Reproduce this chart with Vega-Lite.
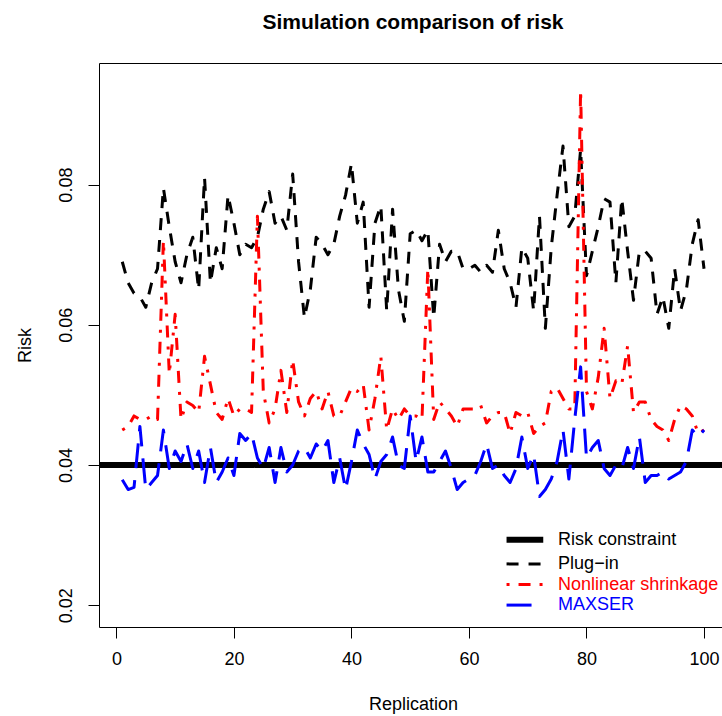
{
  "$schema": "https://vega.github.io/schema/vega-lite/v6.json",
  "autosize": "none",
  "width": 623,
  "height": 564,
  "padding": {"left": 99, "top": 63, "right": 0, "bottom": 89},
  "background": "white",
  "title": {"text": "Simulation comparison of risk", "font": "Liberation Sans", "fontSize": 21, "fontWeight": "bold", "color": "black", "anchor": "middle", "frame": "group", "baseline": "alphabetic", "offset": 13, "dx": 2.5},
  "config": {
    "view": {"stroke": null},
    "axis": {"domainColor": "black", "domainWidth": 1, "tickColor": "black", "tickWidth": 1, "tickSize": 11, "labelColor": "black", "labelFont": "Liberation Sans", "labelFontSize": 18, "titleFont": "Liberation Sans", "titleFontSize": 18, "titleFontWeight": "normal", "titleColor": "black", "grid": false}
  },
  "data": {"values": [
    {"series":"Risk constraint","rep":-4,"risk":0.04},{"series":"Risk constraint","rep":105,"risk":0.04},
    {"series":"Plug−in","rep":1,"risk":0.069},{"series":"Plug−in","rep":2,"risk":0.066},{"series":"Plug−in","rep":3,"risk":0.0645},{"series":"Plug−in","rep":4,"risk":0.064},{"series":"Plug−in","rep":5,"risk":0.0625},{"series":"Plug−in","rep":6,"risk":0.066},{"series":"Plug−in","rep":7,"risk":0.068},{"series":"Plug−in","rep":8,"risk":0.0795},{"series":"Plug−in","rep":9,"risk":0.074},{"series":"Plug−in","rep":10,"risk":0.069},
    {"series":"Plug−in","rep":11,"risk":0.066},{"series":"Plug−in","rep":12,"risk":0.07},{"series":"Plug−in","rep":13,"risk":0.0725},{"series":"Plug−in","rep":14,"risk":0.065},{"series":"Plug−in","rep":15,"risk":0.081},{"series":"Plug−in","rep":16,"risk":0.066},{"series":"Plug−in","rep":17,"risk":0.071},{"series":"Plug−in","rep":18,"risk":0.068},{"series":"Plug−in","rep":19,"risk":0.0785},{"series":"Plug−in","rep":20,"risk":0.0745},
    {"series":"Plug−in","rep":21,"risk":0.07},{"series":"Plug−in","rep":22,"risk":0.0715},{"series":"Plug−in","rep":23,"risk":0.071},{"series":"Plug−in","rep":24,"risk":0.0725},{"series":"Plug−in","rep":25,"risk":0.0765},{"series":"Plug−in","rep":26,"risk":0.079},{"series":"Plug−in","rep":27,"risk":0.0745},{"series":"Plug−in","rep":28,"risk":0.0755},{"series":"Plug−in","rep":29,"risk":0.0735},{"series":"Plug−in","rep":30,"risk":0.0815},
    {"series":"Plug−in","rep":31,"risk":0.069},{"series":"Plug−in","rep":32,"risk":0.061},{"series":"Plug−in","rep":33,"risk":0.065},{"series":"Plug−in","rep":34,"risk":0.0725},{"series":"Plug−in","rep":35,"risk":0.0715},{"series":"Plug−in","rep":36,"risk":0.07},{"series":"Plug−in","rep":37,"risk":0.0715},{"series":"Plug−in","rep":38,"risk":0.0755},{"series":"Plug−in","rep":39,"risk":0.0785},{"series":"Plug−in","rep":40,"risk":0.083},
    {"series":"Plug−in","rep":41,"risk":0.0745},{"series":"Plug−in","rep":42,"risk":0.0775},{"series":"Plug−in","rep":43,"risk":0.0625},{"series":"Plug−in","rep":44,"risk":0.0745},{"series":"Plug−in","rep":45,"risk":0.077},{"series":"Plug−in","rep":46,"risk":0.062},{"series":"Plug−in","rep":47,"risk":0.0765},{"series":"Plug−in","rep":48,"risk":0.065},{"series":"Plug−in","rep":49,"risk":0.0605},{"series":"Plug−in","rep":50,"risk":0.073},
    {"series":"Plug−in","rep":51,"risk":0.0735},{"series":"Plug−in","rep":52,"risk":0.072},{"series":"Plug−in","rep":53,"risk":0.0735},{"series":"Plug−in","rep":54,"risk":0.061},{"series":"Plug−in","rep":55,"risk":0.0715},{"series":"Plug−in","rep":56,"risk":0.069},{"series":"Plug−in","rep":57,"risk":0.0705},{"series":"Plug−in","rep":58,"risk":0.0705},{"series":"Plug−in","rep":59,"risk":0.068},{"series":"Plug−in","rep":60,"risk":0.068},
    {"series":"Plug−in","rep":61,"risk":0.0685},{"series":"Plug−in","rep":62,"risk":0.0675},{"series":"Plug−in","rep":63,"risk":0.0685},{"series":"Plug−in","rep":64,"risk":0.0675},{"series":"Plug−in","rep":65,"risk":0.0735},{"series":"Plug−in","rep":66,"risk":0.068},{"series":"Plug−in","rep":67,"risk":0.066},{"series":"Plug−in","rep":68,"risk":0.0625},{"series":"Plug−in","rep":69,"risk":0.071},{"series":"Plug−in","rep":70,"risk":0.0695},
    {"series":"Plug−in","rep":71,"risk":0.062},{"series":"Plug−in","rep":72,"risk":0.0755},{"series":"Plug−in","rep":73,"risk":0.0595},{"series":"Plug−in","rep":74,"risk":0.071},{"series":"Plug−in","rep":75,"risk":0.0785},{"series":"Plug−in","rep":76,"risk":0.0855},{"series":"Plug−in","rep":77,"risk":0.074},{"series":"Plug−in","rep":78,"risk":0.0755},{"series":"Plug−in","rep":79,"risk":0.085},{"series":"Plug−in","rep":80,"risk":0.067},
    {"series":"Plug−in","rep":81,"risk":0.0705},{"series":"Plug−in","rep":82,"risk":0.074},{"series":"Plug−in","rep":83,"risk":0.078},{"series":"Plug−in","rep":84,"risk":0.0775},{"series":"Plug−in","rep":85,"risk":0.066},{"series":"Plug−in","rep":86,"risk":0.078},{"series":"Plug−in","rep":87,"risk":0.0705},{"series":"Plug−in","rep":88,"risk":0.0635},{"series":"Plug−in","rep":89,"risk":0.0705},{"series":"Plug−in","rep":90,"risk":0.0705},
    {"series":"Plug−in","rep":91,"risk":0.0695},{"series":"Plug−in","rep":92,"risk":0.0615},{"series":"Plug−in","rep":93,"risk":0.064},{"series":"Plug−in","rep":94,"risk":0.0595},{"series":"Plug−in","rep":95,"risk":0.068},{"series":"Plug−in","rep":96,"risk":0.062},{"series":"Plug−in","rep":97,"risk":0.065},{"series":"Plug−in","rep":98,"risk":0.0715},{"series":"Plug−in","rep":99,"risk":0.075},{"series":"Plug−in","rep":100,"risk":0.068},
    {"series":"Nonlinear shrinkage","rep":1,"risk":0.045},{"series":"Nonlinear shrinkage","rep":2,"risk":0.0455},{"series":"Nonlinear shrinkage","rep":3,"risk":0.047},{"series":"Nonlinear shrinkage","rep":4,"risk":0.0465},{"series":"Nonlinear shrinkage","rep":5,"risk":0.0465},{"series":"Nonlinear shrinkage","rep":6,"risk":0.047},{"series":"Nonlinear shrinkage","rep":7,"risk":0.0465},{"series":"Nonlinear shrinkage","rep":8,"risk":0.072},{"series":"Nonlinear shrinkage","rep":9,"risk":0.053},{"series":"Nonlinear shrinkage","rep":10,"risk":0.0615},
    {"series":"Nonlinear shrinkage","rep":11,"risk":0.0465},{"series":"Nonlinear shrinkage","rep":12,"risk":0.049},{"series":"Nonlinear shrinkage","rep":13,"risk":0.0485},{"series":"Nonlinear shrinkage","rep":14,"risk":0.0475},{"series":"Nonlinear shrinkage","rep":15,"risk":0.0555},{"series":"Nonlinear shrinkage","rep":16,"risk":0.0515},{"series":"Nonlinear shrinkage","rep":17,"risk":0.0475},{"series":"Nonlinear shrinkage","rep":18,"risk":0.0465},{"series":"Nonlinear shrinkage","rep":19,"risk":0.0495},{"series":"Nonlinear shrinkage","rep":20,"risk":0.047},
    {"series":"Nonlinear shrinkage","rep":21,"risk":0.048},{"series":"Nonlinear shrinkage","rep":22,"risk":0.048},{"series":"Nonlinear shrinkage","rep":23,"risk":0.0475},{"series":"Nonlinear shrinkage","rep":24,"risk":0.0755},{"series":"Nonlinear shrinkage","rep":25,"risk":0.0505},{"series":"Nonlinear shrinkage","rep":26,"risk":0.046},{"series":"Nonlinear shrinkage","rep":27,"risk":0.048},{"series":"Nonlinear shrinkage","rep":28,"risk":0.0535},{"series":"Nonlinear shrinkage","rep":29,"risk":0.0475},{"series":"Nonlinear shrinkage","rep":30,"risk":0.055},
    {"series":"Nonlinear shrinkage","rep":31,"risk":0.049},{"series":"Nonlinear shrinkage","rep":32,"risk":0.047},{"series":"Nonlinear shrinkage","rep":33,"risk":0.0495},{"series":"Nonlinear shrinkage","rep":34,"risk":0.0505},{"series":"Nonlinear shrinkage","rep":35,"risk":0.048},{"series":"Nonlinear shrinkage","rep":36,"risk":0.0505},{"series":"Nonlinear shrinkage","rep":37,"risk":0.047},{"series":"Nonlinear shrinkage","rep":38,"risk":0.047},{"series":"Nonlinear shrinkage","rep":39,"risk":0.049},{"series":"Nonlinear shrinkage","rep":40,"risk":0.051},
    {"series":"Nonlinear shrinkage","rep":41,"risk":0.0505},{"series":"Nonlinear shrinkage","rep":42,"risk":0.0515},{"series":"Nonlinear shrinkage","rep":43,"risk":0.045},{"series":"Nonlinear shrinkage","rep":44,"risk":0.0495},{"series":"Nonlinear shrinkage","rep":45,"risk":0.0555},{"series":"Nonlinear shrinkage","rep":46,"risk":0.045},{"series":"Nonlinear shrinkage","rep":47,"risk":0.048},{"series":"Nonlinear shrinkage","rep":48,"risk":0.0465},{"series":"Nonlinear shrinkage","rep":49,"risk":0.048},{"series":"Nonlinear shrinkage","rep":50,"risk":0.047},
    {"series":"Nonlinear shrinkage","rep":51,"risk":0.047},{"series":"Nonlinear shrinkage","rep":52,"risk":0.0465},{"series":"Nonlinear shrinkage","rep":53,"risk":0.068},{"series":"Nonlinear shrinkage","rep":54,"risk":0.0465},{"series":"Nonlinear shrinkage","rep":55,"risk":0.049},{"series":"Nonlinear shrinkage","rep":56,"risk":0.048},{"series":"Nonlinear shrinkage","rep":57,"risk":0.047},{"series":"Nonlinear shrinkage","rep":58,"risk":0.0455},{"series":"Nonlinear shrinkage","rep":59,"risk":0.048},{"series":"Nonlinear shrinkage","rep":60,"risk":0.048},
    {"series":"Nonlinear shrinkage","rep":61,"risk":0.048},{"series":"Nonlinear shrinkage","rep":62,"risk":0.0485},{"series":"Nonlinear shrinkage","rep":63,"risk":0.046},{"series":"Nonlinear shrinkage","rep":64,"risk":0.047},{"series":"Nonlinear shrinkage","rep":65,"risk":0.0475},{"series":"Nonlinear shrinkage","rep":66,"risk":0.0475},{"series":"Nonlinear shrinkage","rep":67,"risk":0.0445},{"series":"Nonlinear shrinkage","rep":68,"risk":0.0475},{"series":"Nonlinear shrinkage","rep":69,"risk":0.047},{"series":"Nonlinear shrinkage","rep":70,"risk":0.0475},
    {"series":"Nonlinear shrinkage","rep":71,"risk":0.0445},{"series":"Nonlinear shrinkage","rep":72,"risk":0.0455},{"series":"Nonlinear shrinkage","rep":73,"risk":0.046},{"series":"Nonlinear shrinkage","rep":74,"risk":0.0505},{"series":"Nonlinear shrinkage","rep":75,"risk":0.051},{"series":"Nonlinear shrinkage","rep":76,"risk":0.0495},{"series":"Nonlinear shrinkage","rep":77,"risk":0.048},{"series":"Nonlinear shrinkage","rep":78,"risk":0.048},{"series":"Nonlinear shrinkage","rep":79,"risk":0.0935},{"series":"Nonlinear shrinkage","rep":80,"risk":0.0505},
    {"series":"Nonlinear shrinkage","rep":81,"risk":0.048},{"series":"Nonlinear shrinkage","rep":82,"risk":0.0525},{"series":"Nonlinear shrinkage","rep":83,"risk":0.0595},{"series":"Nonlinear shrinkage","rep":84,"risk":0.0495},{"series":"Nonlinear shrinkage","rep":85,"risk":0.052},{"series":"Nonlinear shrinkage","rep":86,"risk":0.0515},{"series":"Nonlinear shrinkage","rep":87,"risk":0.057},{"series":"Nonlinear shrinkage","rep":88,"risk":0.0475},{"series":"Nonlinear shrinkage","rep":89,"risk":0.049},{"series":"Nonlinear shrinkage","rep":90,"risk":0.049},
    {"series":"Nonlinear shrinkage","rep":91,"risk":0.0465},{"series":"Nonlinear shrinkage","rep":92,"risk":0.0455},{"series":"Nonlinear shrinkage","rep":93,"risk":0.045},{"series":"Nonlinear shrinkage","rep":94,"risk":0.0435},{"series":"Nonlinear shrinkage","rep":95,"risk":0.0465},{"series":"Nonlinear shrinkage","rep":96,"risk":0.0485},{"series":"Nonlinear shrinkage","rep":97,"risk":0.048},{"series":"Nonlinear shrinkage","rep":98,"risk":0.047},{"series":"Nonlinear shrinkage","rep":99,"risk":0.0445},{"series":"Nonlinear shrinkage","rep":100,"risk":0.045},
    {"series":"MAXSER","rep":1,"risk":0.0379},{"series":"MAXSER","rep":2,"risk":0.0365},{"series":"MAXSER","rep":3,"risk":0.0368},{"series":"MAXSER","rep":4,"risk":0.0455},{"series":"MAXSER","rep":5,"risk":0.0365},{"series":"MAXSER","rep":6,"risk":0.0375},{"series":"MAXSER","rep":7,"risk":0.0385},{"series":"MAXSER","rep":8,"risk":0.045},{"series":"MAXSER","rep":9,"risk":0.0395},{"series":"MAXSER","rep":10,"risk":0.042},
    {"series":"MAXSER","rep":11,"risk":0.0405},{"series":"MAXSER","rep":12,"risk":0.043},{"series":"MAXSER","rep":13,"risk":0.0395},{"series":"MAXSER","rep":14,"risk":0.042},{"series":"MAXSER","rep":15,"risk":0.0375},{"series":"MAXSER","rep":16,"risk":0.0425},{"series":"MAXSER","rep":17,"risk":0.0375},{"series":"MAXSER","rep":18,"risk":0.039},{"series":"MAXSER","rep":19,"risk":0.041},{"series":"MAXSER","rep":20,"risk":0.0385},
    {"series":"MAXSER","rep":21,"risk":0.0445},{"series":"MAXSER","rep":22,"risk":0.0435},{"series":"MAXSER","rep":23,"risk":0.0445},{"series":"MAXSER","rep":24,"risk":0.041},{"series":"MAXSER","rep":25,"risk":0.0395},{"series":"MAXSER","rep":26,"risk":0.0425},{"series":"MAXSER","rep":27,"risk":0.0375},{"series":"MAXSER","rep":28,"risk":0.0425},{"series":"MAXSER","rep":29,"risk":0.039},{"series":"MAXSER","rep":30,"risk":0.04},
    {"series":"MAXSER","rep":31,"risk":0.042},{"series":"MAXSER","rep":32,"risk":0.0425},{"series":"MAXSER","rep":33,"risk":0.041},{"series":"MAXSER","rep":34,"risk":0.043},{"series":"MAXSER","rep":35,"risk":0.042},{"series":"MAXSER","rep":36,"risk":0.0435},{"series":"MAXSER","rep":37,"risk":0.0375},{"series":"MAXSER","rep":38,"risk":0.041},{"series":"MAXSER","rep":39,"risk":0.0365},{"series":"MAXSER","rep":40,"risk":0.0405},
    {"series":"MAXSER","rep":41,"risk":0.045},{"series":"MAXSER","rep":42,"risk":0.043},{"series":"MAXSER","rep":43,"risk":0.0415},{"series":"MAXSER","rep":44,"risk":0.038},{"series":"MAXSER","rep":45,"risk":0.0405},{"series":"MAXSER","rep":46,"risk":0.0415},{"series":"MAXSER","rep":47,"risk":0.044},{"series":"MAXSER","rep":48,"risk":0.04},{"series":"MAXSER","rep":49,"risk":0.0395},{"series":"MAXSER","rep":50,"risk":0.047},
    {"series":"MAXSER","rep":51,"risk":0.0405},{"series":"MAXSER","rep":52,"risk":0.044},{"series":"MAXSER","rep":53,"risk":0.039},{"series":"MAXSER","rep":54,"risk":0.039},{"series":"MAXSER","rep":55,"risk":0.0405},{"series":"MAXSER","rep":56,"risk":0.042},{"series":"MAXSER","rep":57,"risk":0.0395},{"series":"MAXSER","rep":58,"risk":0.0365},{"series":"MAXSER","rep":59,"risk":0.0375},{"series":"MAXSER","rep":60,"risk":0.038},
    {"series":"MAXSER","rep":61,"risk":0.0385},{"series":"MAXSER","rep":62,"risk":0.0405},{"series":"MAXSER","rep":63,"risk":0.043},{"series":"MAXSER","rep":64,"risk":0.0395},{"series":"MAXSER","rep":65,"risk":0.04},{"series":"MAXSER","rep":66,"risk":0.0385},{"series":"MAXSER","rep":67,"risk":0.0375},{"series":"MAXSER","rep":68,"risk":0.0395},{"series":"MAXSER","rep":69,"risk":0.044},{"series":"MAXSER","rep":70,"risk":0.0395},
    {"series":"MAXSER","rep":71,"risk":0.0415},{"series":"MAXSER","rep":72,"risk":0.0355},{"series":"MAXSER","rep":73,"risk":0.0365},{"series":"MAXSER","rep":74,"risk":0.038},{"series":"MAXSER","rep":75,"risk":0.0405},{"series":"MAXSER","rep":76,"risk":0.045},{"series":"MAXSER","rep":77,"risk":0.038},{"series":"MAXSER","rep":78,"risk":0.0465},{"series":"MAXSER","rep":79,"risk":0.054},{"series":"MAXSER","rep":80,"risk":0.041},
    {"series":"MAXSER","rep":81,"risk":0.0425},{"series":"MAXSER","rep":82,"risk":0.0435},{"series":"MAXSER","rep":83,"risk":0.0395},{"series":"MAXSER","rep":84,"risk":0.0385},{"series":"MAXSER","rep":85,"risk":0.04},{"series":"MAXSER","rep":86,"risk":0.0395},{"series":"MAXSER","rep":87,"risk":0.0425},{"series":"MAXSER","rep":88,"risk":0.0395},{"series":"MAXSER","rep":89,"risk":0.044},{"series":"MAXSER","rep":90,"risk":0.0375},
    {"series":"MAXSER","rep":91,"risk":0.0385},{"series":"MAXSER","rep":92,"risk":0.0385},{"series":"MAXSER","rep":93,"risk":0.039},{"series":"MAXSER","rep":94,"risk":0.038},{"series":"MAXSER","rep":95,"risk":0.0385},{"series":"MAXSER","rep":96,"risk":0.039},{"series":"MAXSER","rep":97,"risk":0.0405},{"series":"MAXSER","rep":98,"risk":0.045},{"series":"MAXSER","rep":99,"risk":0.044},{"series":"MAXSER","rep":100,"risk":0.045}
  ]},
  "resolve": {"axis": {"x": "independent"}},
  "layer": [
    {
      "mark": {"type": "line", "clip": true, "strokeCap": "butt", "strokeJoin": "round"},
      "encoding": {
        "x": {"field": "rep", "type": "quantitative", "scale": {"domain": [-2.96, 103.06], "nice": false, "zero": false},
              "axis": {"orient": "bottom", "values": [0, 20, 40, 60, 80, 100], "labelPadding": 12, "title": "Replication", "titleX": 314, "titleY": 82.5, "titleBaseline": "alphabetic", "titleAnchor": null}},
        "y": {"field": "risk", "type": "quantitative", "scale": {"domain": [0.01689, 0.09735], "nice": false, "zero": false},
              "axis": {"values": [0.02, 0.04, 0.06, 0.08], "format": ".2f", "labelAngle": -90, "labelAlign": "center", "labelBaseline": "bottom", "labelPadding": 13, "title": "Risk", "titleX": -74, "titleBaseline": "middle"}},
        "color": {"field": "series", "type": "nominal",
                  "scale": {"domain": ["Risk constraint", "Plug−in", "Nonlinear shrinkage", "MAXSER"], "range": ["black", "black", "#ff0000", "#0000ff"]},
                  "legend": {"title": null, "orient": "none", "legendX": 413.4, "legendY": 464.3, "padding": 0, "symbolType": "M-2,0H2", "symbolSize": 337, "labelOffset": 20.7, "rowPadding": 0.6, "labelFont": "Liberation Sans", "labelFontSize": 18, "labelLimit": 300,
                             "encode": {"labels": {"update": {"fill": {"scale": "color", "field": "value"}}}}}},
        "strokeDash": {"field": "series", "type": "nominal",
                       "scale": {"domain": ["Risk constraint", "Plug−in", "Nonlinear shrinkage", "MAXSER"], "range": [[1, 0], [12, 10], [3, 9, 12, 9], [25, 12]]}},
        "strokeWidth": {"field": "series", "type": "nominal",
                        "scale": {"type": "ordinal", "domain": ["Risk constraint", "Plug−in", "Nonlinear shrinkage", "MAXSER"], "range": [6, 3, 3, 3]}}
      }
    },
    {
      "data": {"values": [{"rep": 0, "risk": 0.04}]},
      "mark": {"type": "point", "opacity": 0},
      "encoding": {
        "x": {"field": "rep", "type": "quantitative", "scale": {"domain": [-2.96, 103.06], "nice": false, "zero": false},
              "axis": {"orient": "top", "labels": false, "ticks": false, "domain": true, "title": null}},
        "y": {"field": "risk", "type": "quantitative"}
      }
    }
  ]
}
